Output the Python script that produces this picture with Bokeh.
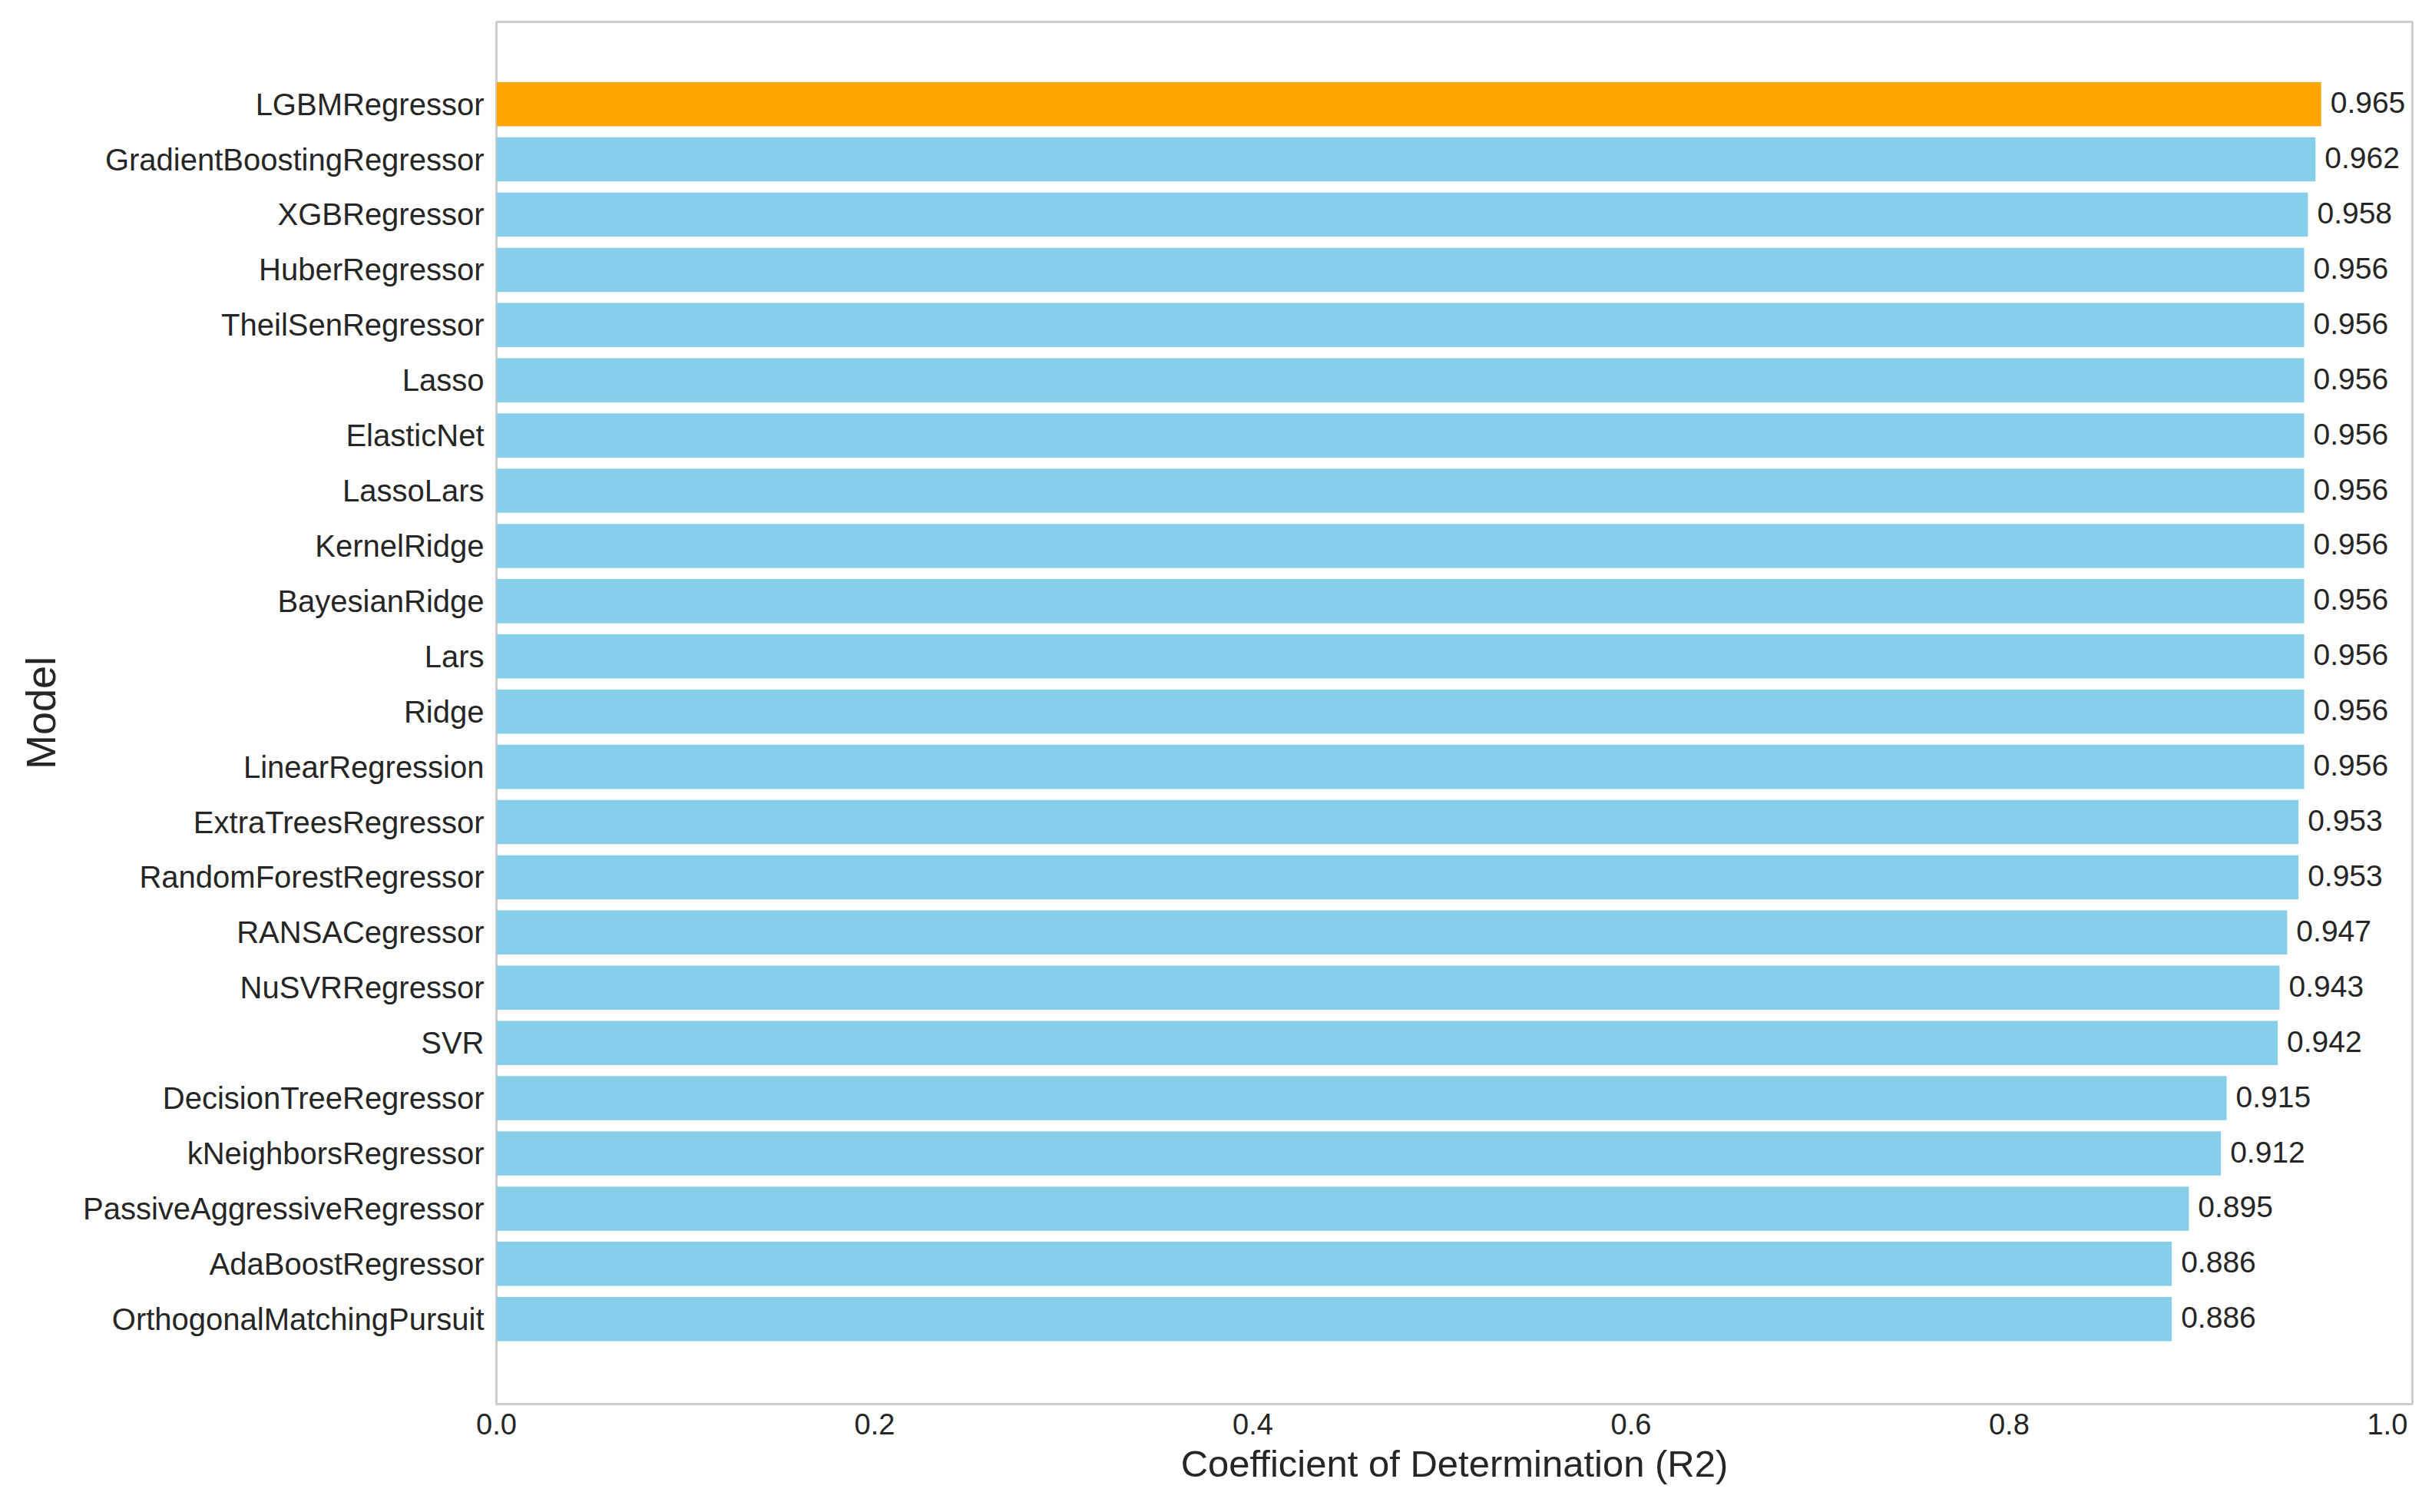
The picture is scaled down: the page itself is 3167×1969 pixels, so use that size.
from bokeh.plotting import figure
from bokeh.models import ColumnDataSource, FixedTicker, Range1d
from bokeh.core.properties import value
from bokeh.embed import file_html
from bokeh.resources import INLINE

models = ["LGBMRegressor", "GradientBoostingRegressor", "XGBRegressor", "HuberRegressor",
          "TheilSenRegressor", "Lasso", "ElasticNet", "LassoLars", "KernelRidge",
          "BayesianRidge", "Lars", "Ridge", "LinearRegression", "ExtraTreesRegressor",
          "RandomForestRegressor", "RANSACegressor", "NuSVRRegressor", "SVR",
          "DecisionTreeRegressor", "kNeighborsRegressor", "PassiveAggressiveRegressor",
          "AdaBoostRegressor", "OrthogonalMatchingPursuit"]
r2 = [0.965, 0.962, 0.958, 0.956, 0.956, 0.956, 0.956, 0.956, 0.956, 0.956, 0.956, 0.956,
      0.956, 0.953, 0.953, 0.947, 0.943, 0.942, 0.915, 0.912, 0.895, 0.886, 0.886]
x_ticks = [0.0, 0.2, 0.4, 0.6, 0.8, 1.0]

n = len(models)
ypos = [n - 1 - i for i in range(n)]
colors = ["#FFA500" if i == 0 else "#87CEEB" for i in range(n)]
labels = ["%.3f" % v for v in r2]

src = ColumnDataSource(dict(model=models, r2=r2, y=ypos, color=colors, label=labels))

FONT = "Liberation Sans"
TXT = "#262626"

p = figure(width=3151, height=1953, output_backend="svg", toolbar_location=None,
           x_range=Range1d(0, max(r2) * 1.05), y_range=Range1d(-1.54, n - 1 + 1.49),
           min_border_left=646, min_border_right=10, min_border_top=28, min_border_bottom=125)

p.hbar(y="y", right="r2", left=0, height=0.8, color="color", line_color=None, source=src)
p.text(x="r2", y="y", text="label", source=src, x_offset=12, y_offset=-2, text_baseline="middle",
       text_align="left", text_font=value(FONT), text_font_size="39px", text_color=TXT)

p.xgrid.visible = False
p.ygrid.visible = False
p.outline_line_color = "#cccccc"
p.outline_line_width = 3
p.background_fill_color = "white"
p.border_fill_color = "white"

yax = p.yaxis[0]
yax.ticker = FixedTicker(ticks=ypos)
yax.major_label_overrides = {y: m for y, m in zip(ypos, models)}
xax = p.xaxis[0]
xax.ticker = FixedTicker(ticks=x_ticks)
xax.major_label_overrides = {t: "%.1f" % t for t in x_ticks}

for ax in (xax, yax):
    ax.axis_line_color = None
    ax.major_tick_line_color = None
    ax.minor_tick_line_color = None
    ax.major_label_text_font = FONT
    ax.major_label_text_color = TXT
    ax.major_label_text_font_size = "40px"
    ax.axis_label_text_font = FONT
    ax.axis_label_text_font_style = "normal"
    ax.axis_label_text_color = TXT

yax.axis_label = "Model"
yax.axis_label_text_font_size = "54px"
yax.major_label_standoff = 10
yax.axis_label_standoff = 22
xax.axis_label = "Coefficient of Determination (R2)"
xax.axis_label_text_font_size = "49px"
xax.major_label_text_font_size = "38px"
xax.major_label_standoff = 6
xax.axis_label_standoff = 8

open("out.html", "w").write(file_html(p, INLINE))
